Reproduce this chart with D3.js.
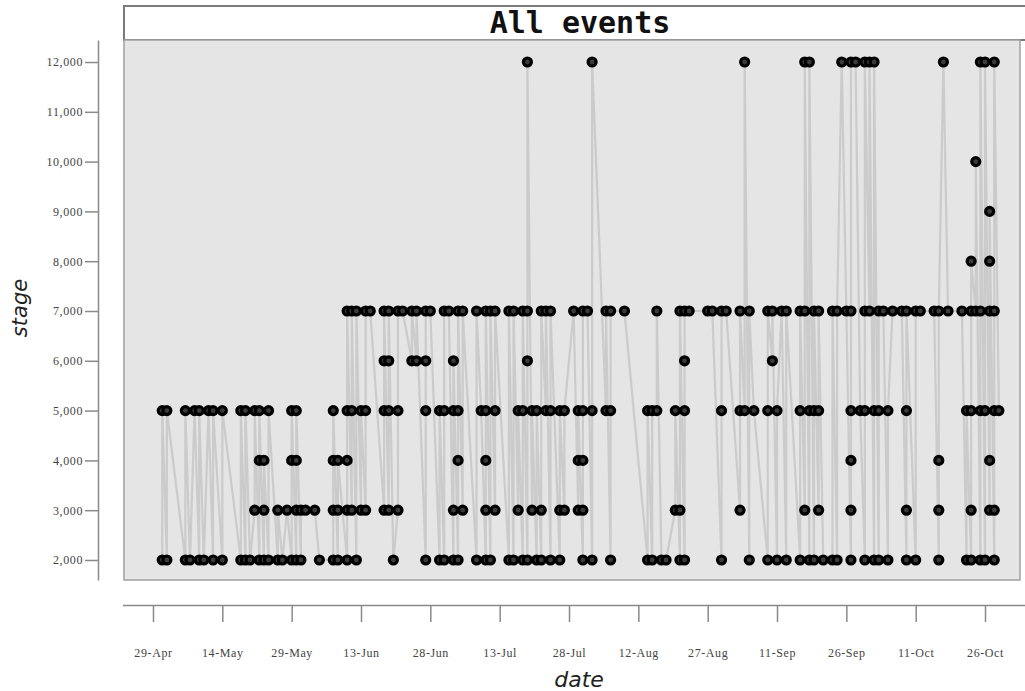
<!DOCTYPE html>
<html>
<head>
<meta charset="utf-8">
<script src="https://cdn.jsdelivr.net/npm/d3@7"></script>
<style>
  body { margin: 0; background: #fff; }
  .axis path, .axis line { stroke: #8a8a8a; stroke-width: 1.5; }
  .axis text { font-family: "Liberation Serif", serif; font-size: 12px; fill: #444; letter-spacing: 0.6px; }
</style>
</head>
<body>
<svg id="chart"></svg>
<script>
// event dates (month-day) for each stage value
const stage2000 = ['05-01','05-02','05-06','05-07','05-09','05-10','05-12','05-14','05-18','05-19','05-20','05-22','05-23','05-24','05-26','05-27','05-29','05-30','05-31','06-04','06-07','06-08','06-10','06-12','06-20','06-27','06-30','07-01','07-03','07-04','07-08','07-10','07-11','07-15','07-16','07-18','07-19','07-21','07-22','07-24','07-26','07-31','08-02','08-06','08-14','08-15','08-17','08-18','08-21','08-22','08-30','09-05','09-09','09-11','09-13','09-16','09-18','09-19','09-21','09-23','09-24','09-27','09-30','10-02','10-03','10-05','10-09','10-11','10-16','10-22','10-23','10-25','10-26','10-28'];
const stage3000 = ['05-21','05-23','05-26','05-28','05-30','05-31','06-01','06-03','06-07','06-08','06-10','06-11','06-13','06-14','06-18','06-19','06-21','07-03','07-05','07-10','07-12','07-17','07-20','07-22','07-26','07-27','07-30','07-31','08-20','08-21','09-03','09-17','09-20','09-27','10-09','10-16','10-23','10-27','10-28'];
const stage4000 = ['05-22','05-23','05-29','05-30','06-07','06-08','06-10','07-04','07-10','07-30','07-31','09-27','10-16','10-27'];
const stage5000 = ['05-01','05-02','05-06','05-08','05-09','05-11','05-12','05-14','05-18','05-19','05-21','05-22','05-24','05-29','05-30','06-07','06-10','06-11','06-13','06-14','06-18','06-19','06-21','06-27','06-30','07-01','07-03','07-04','07-09','07-10','07-12','07-17','07-18','07-20','07-21','07-23','07-24','07-26','07-27','07-30','07-31','08-02','08-05','08-06','08-14','08-15','08-16','08-20','08-22','08-30','09-03','09-04','09-06','09-09','09-11','09-16','09-18','09-19','09-20','09-27','09-29','09-30','10-02','10-03','10-05','10-09','10-22','10-23','10-25','10-26','10-28','10-29'];
const stage6000 = ['06-18','06-19','06-24','06-25','06-27','07-03','07-19','08-22','09-10'];
const stage7000 = ['06-10','06-11','06-12','06-14','06-15','06-18','06-19','06-21','06-22','06-24','06-25','06-27','06-28','07-01','07-02','07-04','07-05','07-08','07-10','07-11','07-12','07-15','07-16','07-18','07-19','07-22','07-23','07-24','07-29','07-31','08-01','08-05','08-06','08-09','08-16','08-21','08-22','08-23','08-27','08-28','08-30','08-31','09-03','09-05','09-09','09-10','09-12','09-13','09-16','09-17','09-19','09-20','09-23','09-24','09-26','09-27','09-30','10-01','10-03','10-04','10-06','10-08','10-09','10-11','10-12','10-15','10-16','10-18','10-21','10-23','10-24','10-25','10-27','10-28'];
const stage8000 = ['10-23','10-27'];
const stage9000 = ['10-27'];
const stage10000 = ['10-24'];
const stage12000 = ['07-19','08-02','09-04','09-17','09-18','09-25','09-27','09-28','09-30','10-01','10-02','10-17','10-25','10-26','10-28'];

const stageTicks = [2000, 3000, 4000, 5000, 6000, 7000, 8000, 9000, 10000, 11000, 12000];
const dateTicks = ['04-29','05-14','05-29','06-13','06-28','07-13','07-28','08-12','08-27','09-11','09-26','10-11','10-26'];

const year = '2013';
const parseDate = d3.timeParse('%Y-%m-%d');
const toDate = (s) => parseDate(year + '-' + s);

const stageSets = [
  [2000, stage2000], [3000, stage3000], [4000, stage4000], [5000, stage5000],
  [6000, stage6000], [7000, stage7000], [8000, stage8000], [9000, stage9000],
  [10000, stage10000], [12000, stage12000],
];

let events = [];
stageSets.forEach(([stage, dates]) => {
  dates.forEach((s) => events.push({date: toDate(s), stage: stage}));
});
events.sort((a, b) => (a.date - b.date) || (a.stage - b.stage));

const width = 1025, height = 691;
const panel = {left: 124, right: 1020, top: 40, bottom: 580};

const svg = d3.select('#chart')
  .attr('width', width)
  .attr('height', height);

// scales: 29-Apr sits at 153px, 26-Oct at 985px
const x = d3.scaleTime()
  .domain([new Date(2013, 3, 22, 17, 30), new Date(2013, 10, 2, 13, 40)])
  .range([panel.left, panel.right]);

const y = d3.scaleLinear()
  .domain([1598, 12442])
  .range([panel.bottom, panel.top]);

// strip with title
svg.append('rect')
  .attr('x', panel.left)
  .attr('y', 6)
  .attr('width', width - panel.left + 5)
  .attr('height', panel.top - 6)
  .attr('fill', '#fff')
  .attr('stroke', '#7a7a7a')
  .attr('stroke-width', 2);

svg.append('text')
  .attr('x', 580)
  .attr('y', 33)
  .attr('text-anchor', 'middle')
  .style('font-family', '"DejaVu Sans Mono", monospace')
  .style('font-weight', 'bold')
  .style('font-size', '30px')
  .attr('fill', '#111')
  .text('All events');

// panel
svg.append('rect')
  .attr('x', panel.left)
  .attr('y', panel.top)
  .attr('width', panel.right - panel.left)
  .attr('height', panel.bottom - panel.top)
  .attr('fill', '#e5e5e5')
  .attr('stroke', '#a0a0a0')
  .attr('stroke-width', 1.5);

svg.append('clipPath')
  .attr('id', 'clip')
  .append('rect')
  .attr('x', panel.left)
  .attr('y', panel.top)
  .attr('width', panel.right - panel.left)
  .attr('height', panel.bottom - panel.top);

const plot = svg.append('g').attr('clip-path', 'url(#clip)');

plot.append('path')
  .datum(events)
  .attr('fill', 'none')
  .attr('stroke', '#bdbdbd')
  .attr('stroke-opacity', 0.65)
  .attr('stroke-width', 2.2)
  .attr('d', d3.line().x((d) => x(d.date)).y((d) => y(d.stage)));

plot.selectAll('circle')
  .data(events)
  .enter()
  .append('circle')
  .attr('cx', (d) => x(d.date))
  .attr('cy', (d) => y(d.stage))
  .attr('r', 4)
  .attr('fill', '#3a3a3a')
  .attr('stroke', '#000')
  .attr('stroke-width', 3.2);

// y axis, detached on the left
svg.append('g')
  .attr('class', 'axis axis--y')
  .attr('transform', 'translate(98,0)')
  .call(d3.axisLeft(y)
    .tickValues(stageTicks)
    .tickFormat(d3.format(','))
    .tickSize(13)
    .tickSizeOuter(0)
    .tickPadding(2));

// x axis, detached below
svg.append('g')
  .attr('class', 'axis axis--x')
  .attr('transform', 'translate(0,605)')
  .call(d3.axisBottom(x)
    .tickValues(dateTicks.map(toDate))
    .tickFormat(d3.timeFormat('%d-%b'))
    .tickSize(17)
    .tickSizeOuter(0)
    .tickPadding(26));

svg.select('.axis--x .domain')
  .attr('d', `M${panel.left - 1},0.5H${width}`);

svg.append('text')
  .attr('transform', 'translate(27,308) rotate(-90)')
  .attr('text-anchor', 'middle')
  .style('font-family', '"DejaVu Sans", sans-serif')
  .style('font-style', 'italic')
  .style('font-size', '21px')
  .attr('fill', '#222')
  .text('stage');

svg.append('text')
  .attr('x', 579)
  .attr('y', 687)
  .attr('text-anchor', 'middle')
  .style('font-family', '"DejaVu Sans", sans-serif')
  .style('font-style', 'italic')
  .style('font-size', '22px')
  .attr('fill', '#222')
  .text('date');
</script>
</body>
</html>
